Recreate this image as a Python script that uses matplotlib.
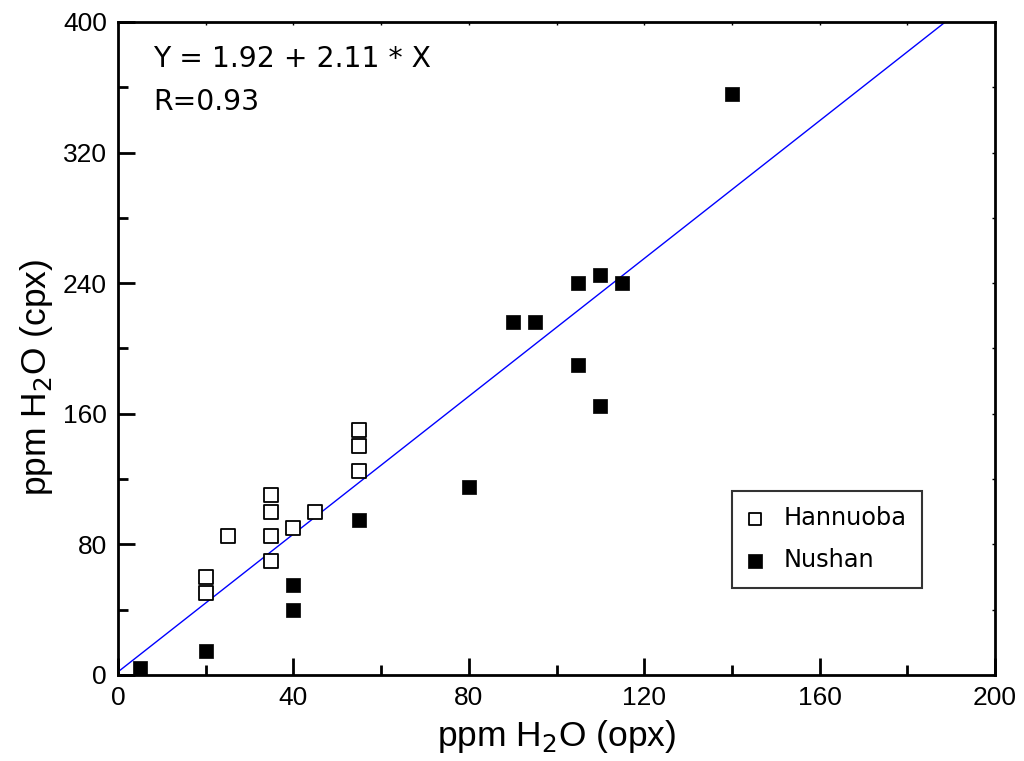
import matplotlib
matplotlib.use("Agg")
import matplotlib.pyplot as plt
import numpy as np

# Data
hannuoba_x = [20, 20, 25, 35, 35, 35, 35, 40, 45, 55, 55, 55]
hannuoba_y = [60, 50, 85, 110, 100, 85, 70, 90, 100, 150, 140, 125]
nushan_x = [5, 20, 40, 40, 55, 80, 90, 95, 105, 110, 115, 105, 110, 140]
nushan_y = [4, 15, 55, 40, 95, 115, 216, 216, 240, 245, 240, 190, 165, 356]
fit_intercept = 1.92
fit_slope = 2.11
xticks = [0, 40, 80, 120, 160, 200]
yticks = [0, 80, 160, 240, 320, 400]

fig = plt.figure(figsize=(10.24, 7.61), dpi=100)
ax = fig.add_axes([118/1024, 1-675/761, (995-118)/1024, (675-22)/761])

tick_font = "Liberation Sans"
ax.set_xlim(0, 200)
ax.set_ylim(0, 400)

xl = np.array([0, (400 - fit_intercept) / fit_slope])
ax.plot(xl, fit_intercept + fit_slope * xl, color="#0000ff", lw=1.0, zorder=2)

ax.scatter(hannuoba_x, hannuoba_y, marker="s", s=95, facecolor="white",
           edgecolor="black", linewidths=1.3, zorder=3, label="Hannuoba")
ax.scatter(nushan_x, nushan_y, marker="s", s=110, facecolor="black",
           edgecolor="black", linewidths=0.5, zorder=3, label="Nushan")

ax.set_xticks(xticks)
ax.set_yticks(yticks)
ax.set_xticks(np.arange(20, 200, 40), minor=True)
ax.set_yticks(np.arange(40, 400, 80), minor=True)
ax.tick_params(which="major", direction="in", length=12, width=2,
               labelsize=19, pad=8)
ax.tick_params(which="minor", direction="in", length=7, width=2)
ax.tick_params(which="both", top=True, right=True)
# tiny ticks on top/right axes
for t in ax.xaxis.get_major_ticks() + ax.xaxis.get_minor_ticks():
    t.tick2line.set_markersize(2)
    t.tick2line.set_markeredgewidth(1)
for t in ax.yaxis.get_major_ticks() + ax.yaxis.get_minor_ticks():
    t.tick2line.set_markersize(2)
    t.tick2line.set_markeredgewidth(1)
for lbl in ax.get_xticklabels() + ax.get_yticklabels():
    lbl.set_fontfamily(tick_font)
for s in ax.spines.values():
    s.set_linewidth(2)

ax.set_xlabel("ppm H$_2$O (opx)", fontsize=25.5, fontfamily=tick_font, labelpad=6)
ax.set_ylabel("ppm H$_2$O (cpx)", fontsize=25.5, fontfamily=tick_font, labelpad=10)
ax.yaxis.set_label_coords(-63/877, (675-377)/653)

ax.text(0.04, 0.965, "Y = 1.92 + 2.11 * X\nR=0.93", transform=ax.transAxes,
        ha="left", va="top", fontsize=20.3, fontfamily="DejaVu Sans",
        linespacing=1.7)

leg = ax.legend(loc="lower left", bbox_to_anchor=((732-118)/877, (675-588)/653),
                fontsize=17.3, frameon=True, fancybox=False, edgecolor="black",
                handletextpad=0.9, borderpad=0.65, labelspacing=0.75,
                handlelength=0.6, scatterpoints=1, markerscale=0.9,
                borderaxespad=0)
leg.get_frame().set_linewidth(1.5)
leg.set_zorder(5)

fig.savefig("out.png", dpi=100)
